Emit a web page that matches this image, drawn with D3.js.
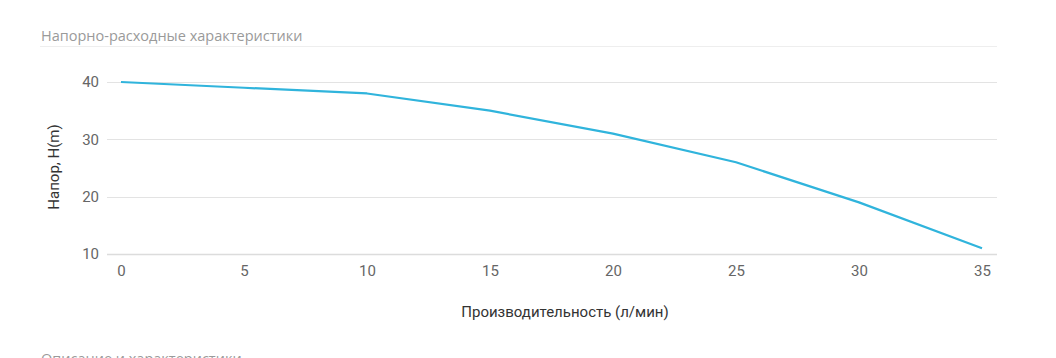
<!DOCTYPE html>
<html><head><meta charset="utf-8">
<script src="https://cdn.jsdelivr.net/npm/d3@7"></script>
<style>
html,body{margin:0;padding:0;background:#fff;}
svg{display:block;}
</style></head>
<body><svg id="c" width="1056" height="358"></svg>
<script>
const title = "Напорно-расходные характеристики";
const nextTitle = "Описание и характеристики";
const yLabel = "Напор, H(m)";
const xLabel = "Производительность (л/мин)";
const flow = [0, 5, 10, 15, 20, 25, 30, 35];
const head = [40, 39, 38, 35, 31, 26, 19, 11];
const xTicks = [0, 5, 10, 15, 20, 25, 30, 35];
const yTicks = [10, 20, 30, 40];

const svg = d3.select("#c");
const font = "Roboto, 'Open Sans', sans-serif";

svg.append("text").attr("x", 41).attr("y", 41).text(title)
  .attr("font-family", "'Open Sans', sans-serif").attr("font-size", 14.5).attr("fill", "#9a9a9a");
svg.append("line").attr("x1", 40).attr("x2", 997).attr("y1", 46.5).attr("y2", 46.5)
  .attr("stroke", "#eeeeee").attr("stroke-width", 1);

const x = d3.scaleLinear().domain([0, 35]).range([121, 982]);
const y = d3.scaleLinear().domain([10, 40]).range([254, 82]);

const grid = svg.append("g");
grid.selectAll("line").data(yTicks).join("line")
  .attr("x1", 107).attr("x2", 997)
  .attr("y1", d => Math.round(y(d)) + 0.5).attr("y2", d => Math.round(y(d)) + 0.5)
  .attr("stroke", d => d === 10 ? "#dcdcdc" : "#e3e3e3").attr("stroke-width", d => d === 10 ? 1.5 : 1);

const yAxis = d3.axisLeft(y).tickValues(yTicks).tickSize(0).tickPadding(0);
const ya = svg.append("g").attr("transform", "translate(99,0)").call(yAxis);
ya.select(".domain").remove();
ya.selectAll("text").attr("font-family", font).attr("font-size", 15).attr("fill", "#666").attr("dy", "0.32em");

const xAxis = d3.axisBottom(x).tickValues(xTicks).tickSize(0).tickPadding(0);
const xa = svg.append("g").attr("transform", "translate(0,265)").call(xAxis);
xa.select(".domain").remove();
xa.selectAll("text").attr("font-family", font).attr("font-size", 15).attr("fill", "#666").attr("dy", "0.71em");

svg.append("text").attr("transform", "translate(59,167) rotate(-90)").attr("text-anchor", "middle")
  .text(yLabel).attr("font-family", font).attr("font-size", 15).attr("fill", "#333");
svg.append("text").attr("x", 565).attr("y", 317).attr("text-anchor", "middle")
  .text(xLabel).attr("font-family", font).attr("font-size", 15).attr("fill", "#333");

const line = d3.line().x((d, i) => x(flow[i])).y(d => y(d));
svg.append("path").datum(head).attr("d", line).attr("fill", "none")
  .attr("stroke", "#30b4dc").attr("stroke-width", 2.2).attr("stroke-linejoin", "round");

svg.append("text").attr("x", 41).attr("y", 364).text(nextTitle)
  .attr("font-family", "'Open Sans', sans-serif").attr("font-size", 14.5).attr("fill", "#9a9a9a");
</script></body></html>
